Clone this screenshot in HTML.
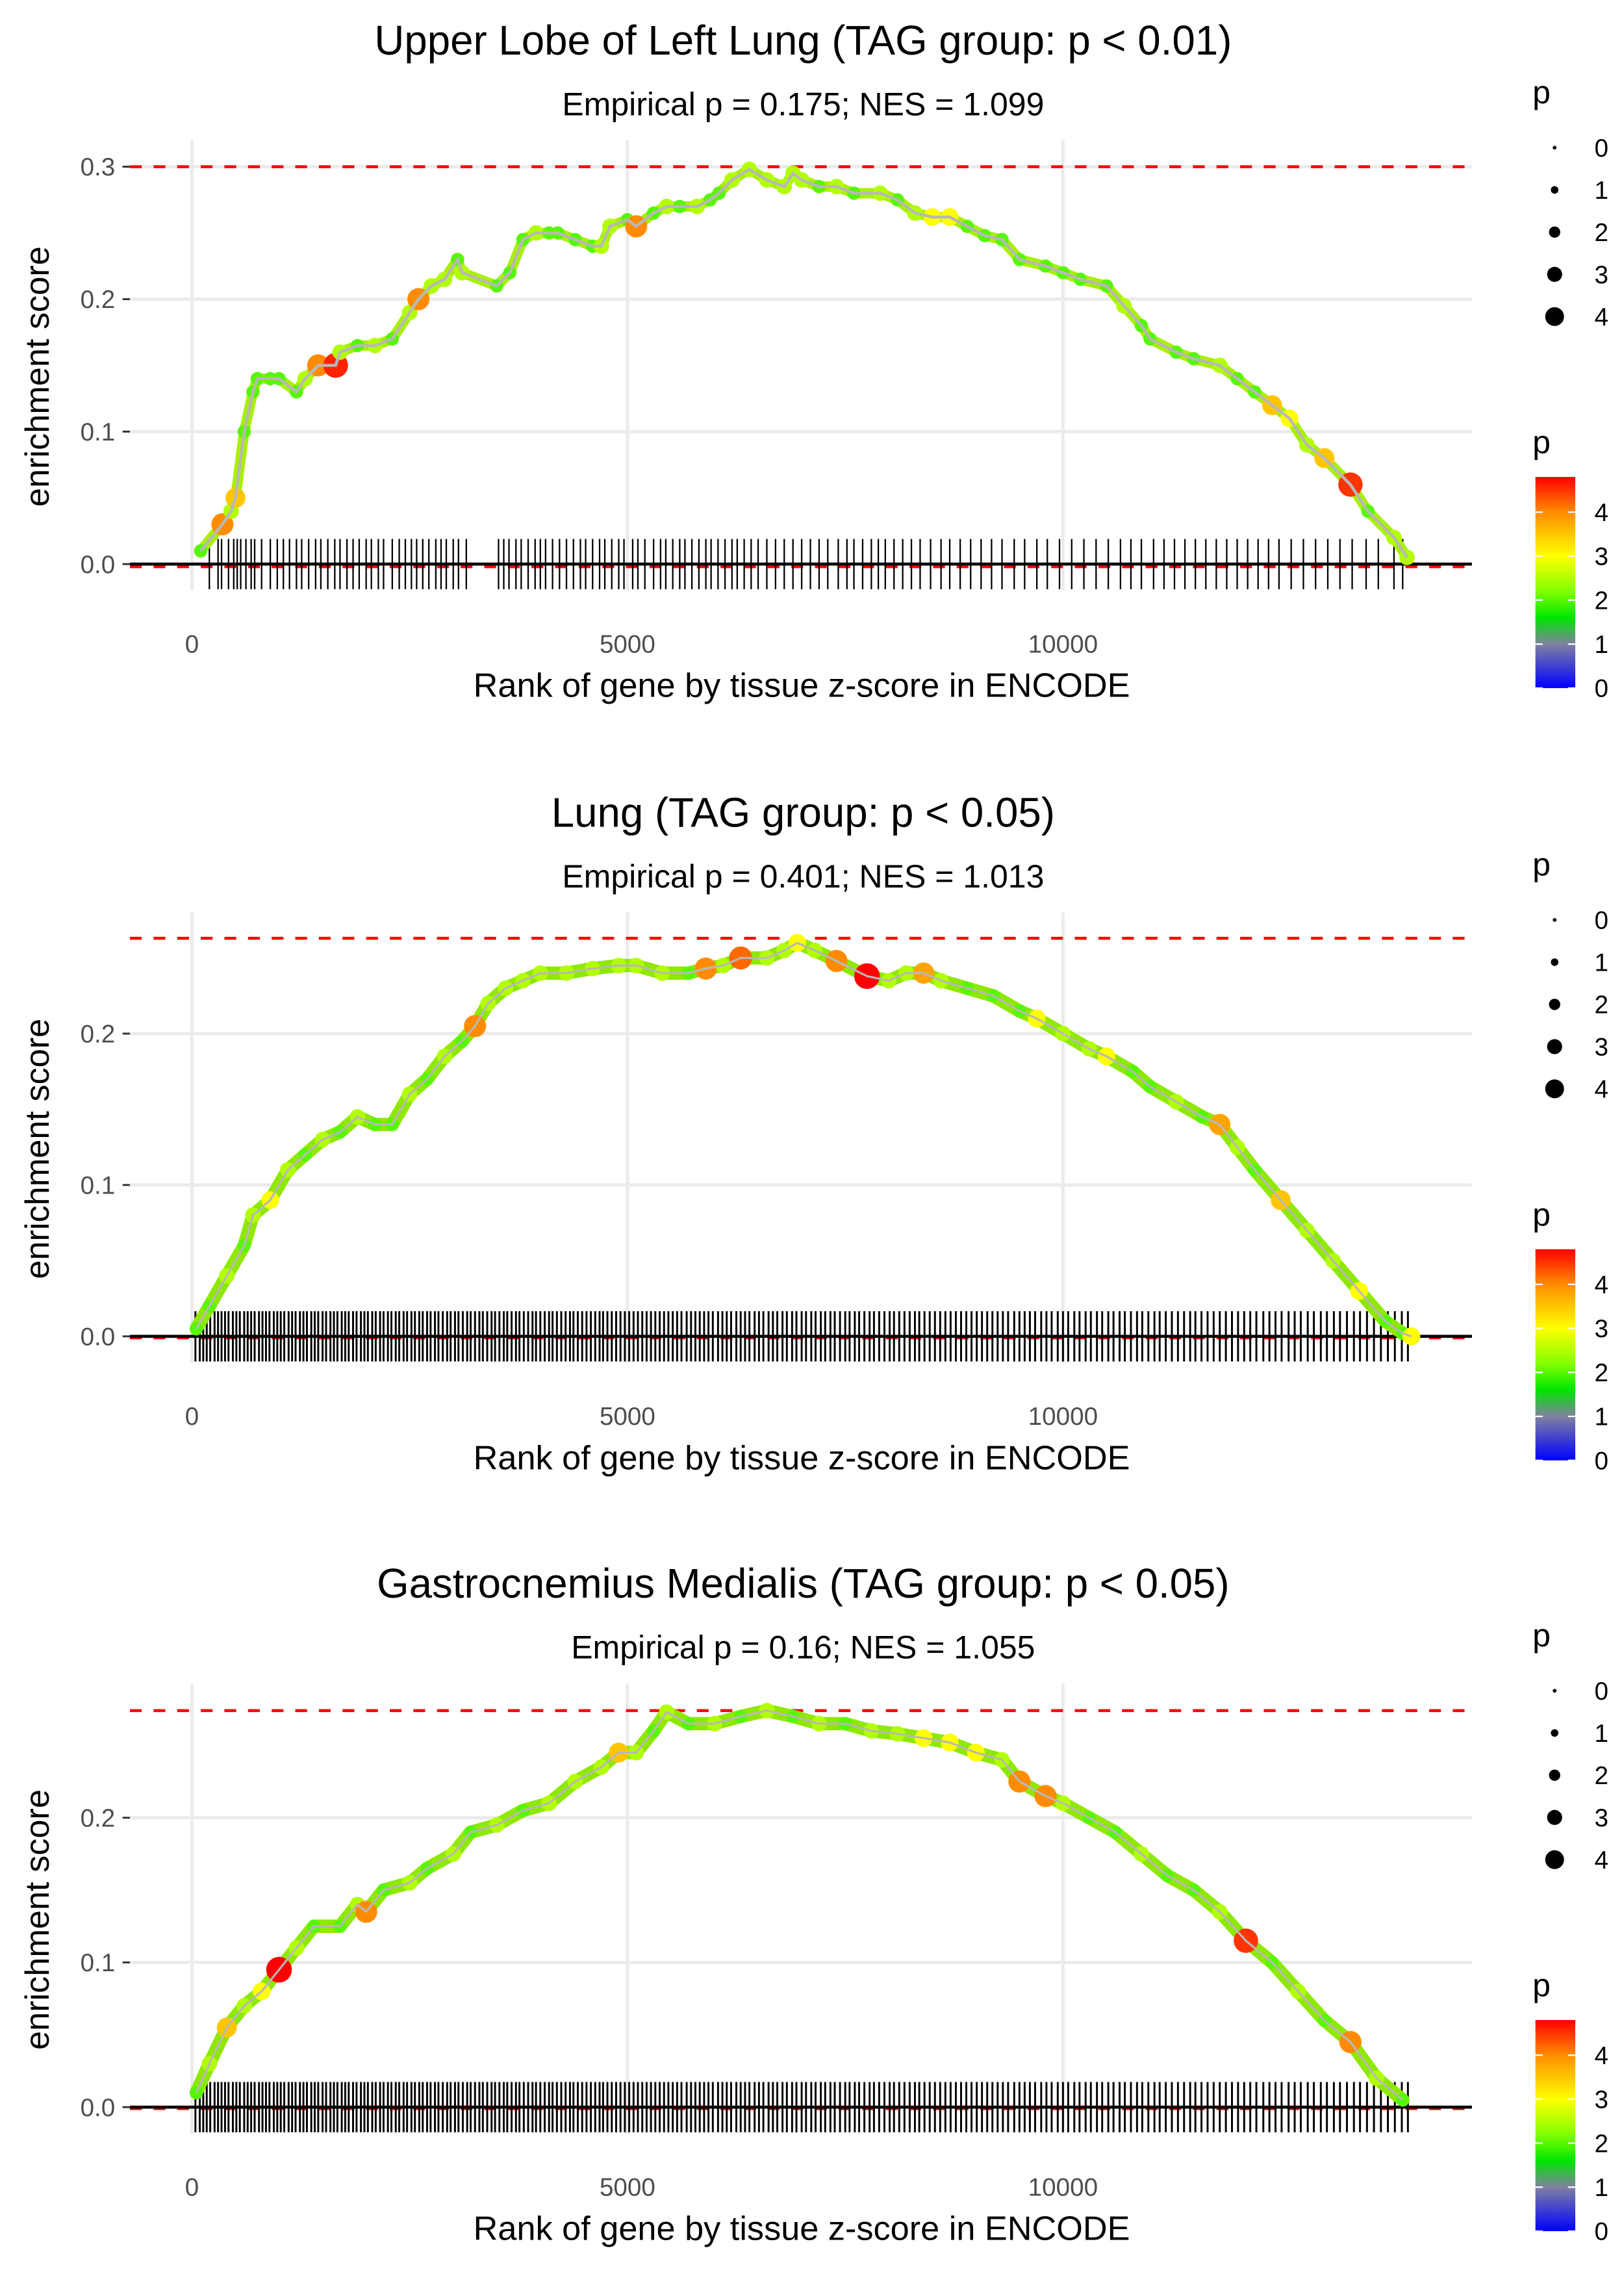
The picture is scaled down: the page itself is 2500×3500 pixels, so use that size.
<!DOCTYPE html>
<html><head><meta charset="utf-8"><style>
html,body{margin:0;padding:0;background:#fff;}
svg{display:block;font-family:"Liberation Sans",sans-serif;}
</style></head><body>
<svg id="chart" width="2500" height="3500" viewBox="0 0 1100 1540" xmlns="http://www.w3.org/2000/svg"></svg>
<script>
// ---------- data ----------
const titles = ["Upper Lobe of Left Lung (TAG group: p < 0.01)","Lung (TAG group: p < 0.05)","Gastrocnemius Medialis (TAG group: p < 0.05)"];
const subtitles = ["Empirical p = 0.175; NES = 1.099","Empirical p = 0.401; NES = 1.013","Empirical p = 0.16; NES = 1.055"];
const xTicks = [0,5000,10000];
const yTicks1 = [0,0.1,0.2,0.3];
const yTicks2 = [0,0.1,0.2];
const yTicks3 = [0,0.1,0.2];
const maxES = [0.300,0.263,0.274];
const minES = [-0.002,-0.001,-0.001];

const ranks1 = [100,350,450,500,600,700,750,900,1000,1200,1300,1450,1650,1700,1900,2100,2300,2500,2600,2750,2900,3050,3100,3500,3650,3800,3950,4100,4200,4400,4600,4700,4800,5000,5100,5300,5450,5600,5800,5950,6050,6200,6400,6600,6800,6900,7000,7200,7400,7600,7900,8100,8300,8500,8700,8900,9100,9300,9500,9800,10000,10200,10500,10700,10900,11000,11300,11500,11800,12000,12200,12400,12600,12800,13000,13300,13500,13800,13950];
const es1 = [0.01,0.03,0.04,0.05,0.1,0.13,0.14,0.14,0.14,0.13,0.14,0.15,0.15,0.16,0.165,0.165,0.17,0.19,0.2,0.21,0.215,0.23,0.22,0.21,0.22,0.245,0.25,0.25,0.25,0.245,0.24,0.24,0.255,0.26,0.255,0.265,0.27,0.27,0.27,0.275,0.28,0.29,0.298,0.29,0.285,0.295,0.29,0.285,0.285,0.28,0.28,0.275,0.265,0.262,0.262,0.255,0.248,0.245,0.23,0.225,0.22,0.215,0.21,0.195,0.18,0.17,0.16,0.155,0.15,0.14,0.13,0.12,0.11,0.09,0.08,0.06,0.04,0.02,0.005];
const p1 = [2,4,2.5,3.5,2,2,2,2,2,2,2.5,4,4.6,2.5,2,2.5,2,2.5,4,2.5,2.5,2,2.5,2,2,2,2.5,2,2,2,2,2.5,2.5,2,4,2,2.5,2,2.5,2,2,2.5,2.5,2.5,2.5,2.5,2.5,2,2.5,2,2.5,2,2.5,3,3,2,2,2,2,2,2,2,2,2.5,2,2,2,2,2.5,2,2,3.5,3,2.5,3.5,4.5,2,2.5,2.5];
const rug1 = [200,300,340,420,480,520,560,620,680,720,800,900,980,1050,1120,1200,1260,1340,1420,1480,1560,1640,1700,1780,1850,1920,2000,2060,2140,2200,2300,2380,2450,2520,2580,2650,2720,2800,2860,2920,3000,3060,3150,3520,3580,3640,3720,3780,3860,3940,4000,4060,4140,4220,4300,4380,4460,4520,4600,4680,4740,4820,4900,4960,5060,5120,5200,5300,5380,5440,5520,5600,5660,5740,5820,5900,5960,6040,6120,6200,6260,6340,6420,6500,6600,6700,6800,6900,7000,7100,7200,7300,7420,7520,7600,7700,7800,7880,7960,8060,8160,8260,8360,8480,8600,8700,8820,8940,9060,9180,9300,9440,9560,9700,9820,9960,10100,10240,10380,10520,10660,10780,10900,11040,11160,11280,11400,11520,11640,11760,11880,12000,12120,12240,12360,12480,12620,12760,12900,13040,13180,13320,13480,13620,13800,13900];

const ranks2 = [50,200,400,600,700,900,1100,1300,1500,1700,1900,2100,2300,2500,2700,2900,3100,3250,3400,3600,3800,4000,4300,4600,4900,5100,5400,5700,5900,6100,6300,6600,6800,6950,7150,7400,7750,8000,8200,8400,8600,8900,9200,9500,9700,10000,10300,10500,10800,11000,11300,11600,11800,12000,12200,12500,12800,13100,13400,13700,13900,14000];
const es2 = [0.005,0.02,0.04,0.06,0.08,0.09,0.11,0.12,0.13,0.135,0.145,0.14,0.14,0.16,0.17,0.185,0.195,0.205,0.22,0.23,0.235,0.24,0.24,0.243,0.245,0.245,0.24,0.24,0.243,0.245,0.25,0.25,0.255,0.26,0.255,0.248,0.238,0.235,0.24,0.24,0.235,0.23,0.225,0.215,0.21,0.2,0.19,0.185,0.175,0.165,0.155,0.145,0.14,0.125,0.11,0.09,0.07,0.05,0.03,0.01,0.002,0.0];
const p2 = [2,2,2.5,2,2.5,3,2.5,2,2.5,2,2.5,2,2,2.5,2,2.5,2,4,2.5,2.5,2.5,2.5,2.5,2.5,2.5,2.5,2.5,2,4,2.5,4.2,2.5,2.5,3,2.5,4,4.8,2.5,2.5,3.8,2.5,2,2,2,3,2.5,2.5,3,2,2,2.5,2,3.8,2.5,2,3.5,2.5,2.5,3,2,2,3];

const ranks3 = [50,200,400,600,800,1000,1200,1400,1700,1900,2000,2200,2500,2700,3000,3200,3500,3800,4100,4400,4700,4900,5100,5300,5450,5700,6000,6300,6600,6900,7200,7500,7800,8100,8400,8700,9000,9300,9500,9800,10000,10300,10600,10900,11200,11500,11800,12100,12400,12700,13000,13300,13600,13900];
const es3 = [0.01,0.03,0.055,0.07,0.08,0.095,0.11,0.125,0.125,0.14,0.135,0.15,0.155,0.165,0.175,0.19,0.195,0.205,0.21,0.225,0.235,0.245,0.245,0.26,0.273,0.265,0.265,0.27,0.274,0.27,0.265,0.265,0.26,0.258,0.255,0.252,0.245,0.24,0.225,0.215,0.21,0.2,0.19,0.175,0.16,0.15,0.135,0.115,0.1,0.08,0.06,0.045,0.02,0.005];
const p3 = [2,2.5,3.5,2.5,3,4.8,2.5,2,2,2.5,4,2,2.5,2,2.5,2,2.5,2,2.5,2.5,2.5,3.5,2.5,2,2.5,2,2.5,2,2.5,2,2.5,2,2.5,2.5,3,3,3,2.5,4,4,2.5,2,2,2.5,2,2,2.5,4.5,2,2.5,2,4,2.5,2];

const rugDense = [40,90,130,170,210,260,300,340,380,420,470,510,550,600,640,680,720,770,810,850,890,940,980,1020,1060,1110,1150,1190,1240,1280,1320,1370,1410,1450,1500,1540,1590,1630,1670,1720,1760,1800,1850,1890,1940,1980,2020,2070,2110,2160,2200,2250,2290,2340,2380,2430,2470,2520,2560,2610,2650,2700,2740,2790,2830,2880,2930,2970,3020,3060,3110,3160,3200,3250,3300,3340,3390,3440,3480,3530,3580,3620,3670,3720,3760,3810,3860,3910,3950,4000,4050,4100,4140,4190,4240,4290,4340,4380,4430,4480,4530,4580,4630,4680,4720,4770,4820,4870,4920,4970,5020,5070,5120,5170,5220,5270,5320,5370,5420,5470,5520,5570,5620,5680,5730,5780,5830,5880,5930,5980,6040,6090,6140,6190,6250,6300,6350,6400,6460,6510,6560,6620,6670,6720,6780,6830,6890,6940,7000,7050,7110,7160,7220,7270,7330,7380,7440,7500,7550,7610,7660,7720,7780,7830,7890,7950,8010,8060,8120,8180,8240,8300,8350,8410,8470,8530,8590,8650,8710,8770,8830,8890,8950,9010,9070,9130,9190,9250,9310,9370,9440,9500,9560,9620,9680,9750,9810,9870,9940,10000,10060,10130,10190,10260,10320,10390,10450,10520,10580,10650,10710,10780,10850,10910,10980,11050,11110,11180,11250,11320,11390,11460,11520,11590,11660,11730,11800,11870,11940,12010,12080,12150,12220,12300,12370,12440,12510,12590,12660,12730,12810,12880,12960,13030,13110,13180,13260,13340,13410,13490,13570,13650,13730,13810,13890,13960];

const pointsRanks = [ranks1,ranks2,ranks3];
const pointsES = [es1,es2,es3];
const pointsP = [p1,p2,p3];
const rugs = [rug1,rugDense,rugDense];
const yTicksAll = [yTicks1,yTicks2,yTicks3];
const legendVals = [0,1,2,3,4];

// ---------- geometry ----------
const NS = "http://www.w3.org/2000/svg";
const svg = document.getElementById('chart');
const panelOff = [0,523,1045];
const yZero = [382,905,1427];
const yScaleK = [897,1025,980];
const PL=88, PR=997;
const xScale = r => 130 + r*(295/5000);

function mk(tag, attrs, parent){
  const e=document.createElementNS(NS,tag);
  for(const k in attrs) e.setAttribute(k,attrs[k]);
  (parent||svg).appendChild(e); return e;
}
function pColor(p){
  const stops=[[0,[0,0,255]],[1,[128,128,160]],[1.6,[0,230,0]],[2.2,[130,255,0]],[3,[255,255,0]],[4,[255,140,0]],[4.8,[255,0,0]]];
  if(p<=0) return 'rgb(0,0,255)';
  for(let i=1;i<stops.length;i++){
    if(p<=stops[i][0]){
      const a=stops[i-1],b=stops[i],t=(p-a[0])/(b[0]-a[0]);
      const c=a[1].map((v,j)=>Math.round(v+(b[1][j]-v)*t));
      return `rgb(${c.join(',')})`;
    }
  }
  return 'rgb(255,0,0)';
}
function pRadius(p){ return 1.5 + p*1.5; }

for(let k=0;k<3;k++){
  const off=panelOff[k];
  const yS = v => yZero[k] - v*yScaleK[k];
  const g=mk('g',{});
  
  
  const t=mk('text',{x:544,y:off+37,'font-size':28,'text-anchor':'middle',fill:'#000'},g);
  t.textContent=titles[k];
  
  
  const s=mk('text',{x:544,y:off+78,'font-size':22,'text-anchor':'middle',fill:'#000'},g);
  s.textContent=subtitles[k];
  
  
  const top=off+95, bot=off+400;
  xTicks.forEach(v=>{
    const l=mk('line',{x1:xScale(v),x2:xScale(v),y1:top,y2:bot,stroke:'#ebebeb','stroke-width':2.2},g);
    
    
    const tl=mk('text',{x:xScale(v),y:off+442,'font-size':17,'text-anchor':'middle',fill:'#4d4d4d'},g);
    tl.textContent=v;
    
    
  });
  yTicksAll[k].forEach(v=>{
    const l=mk('line',{x1:PL,x2:PR,y1:yS(v),y2:yS(v),stroke:'#ebebeb','stroke-width':2.2},g);
    
    
    const tm=mk('line',{x1:83,x2:88,y1:yS(v),y2:yS(v),stroke:'#333','stroke-width':1.3},g);
    
    
    const tl=mk('text',{x:78,y:yS(v)+6,'font-size':17,'text-anchor':'end',fill:'#4d4d4d'},g);
    tl.textContent=v.toFixed(1);
    
    
  });
  [maxES[k],minES[k]].forEach((v,i)=>{
    const l=mk('line',{x1:PL,x2:PR,y1:yS(v),y2:yS(v),stroke:'#ff0000','stroke-width':2,'stroke-dasharray':'8,8'},g);
    
    
  });
  rugs[k].forEach(r=>{
    const l=mk('line',{x1:xScale(r),x2:xScale(r),y1:yZero[k]-17,y2:yZero[k]+17,stroke:'#000','stroke-width':k?1.3:1},g);
    
    
  });
  const z=mk('line',{x1:PL,x2:PR,y1:yZero[k],y2:yZero[k],stroke:'#000','stroke-width':2},g);
  
  
  const R=pointsRanks[k],E=pointsES[k],P=pointsP[k];
  const pts=R.map((r,i)=>xScale(r)+','+yS(E[i])).join(' ');
  const band=mk('polyline',{points:pts,fill:'none',stroke:k?'#8ee800':'#a8f000','stroke-width':k?9:7,'stroke-linejoin':'round','stroke-linecap':'round'},g);
  
  
  R.forEach((r,i)=>{
    const c=mk('circle',{cx:xScale(r),cy:yS(E[i]),r:pRadius(P[i]),fill:pColor(P[i])},g);
    
    
  });
  const pl=mk('polyline',{points:pts,fill:'none',stroke:'#b8b8b8','stroke-width':k?1.4:2},g);
  
  
  const xt=mk('text',{x:543,y:off+472,'font-size':23,'text-anchor':'middle',fill:'#000'},g);
  xt.textContent='Rank of gene by tissue z-score in ENCODE';
  
  
  const yt=mk('text',{x:0,y:0,'font-size':23,'text-anchor':'middle',fill:'#000',transform:`translate(33,${off+255}) rotate(-90)`},g);
  yt.textContent='enrichment score';
  
  
  const st=mk('text',{x:1038,y:off+70,'font-size':22,fill:'#000'},g);
  st.textContent='p';
  
  
  legendVals.forEach((v,i)=>{
    const cy=off+100+i*28.6;
    const c=mk('circle',{cx:1053,cy:cy,r:pRadius(v)*0.85,fill:'#000'},g);
    
    
    const lt=mk('text',{x:1080,y:cy+6,'font-size':17,fill:'#000'},g);
    lt.textContent=v;
    
    
  });
  const ct=mk('text',{x:1038,y:off+307,'font-size':22,fill:'#000'},g);
  ct.textContent='p';
  
  
  const gid='grad'+k;
  const defs=mk('defs',{},g);
  const lg=mk('linearGradient',{id:gid,x1:0,y1:1,x2:0,y2:0},defs);
  [0,0.5,1,1.3,1.6,1.9,2.2,2.6,3,3.5,4,4.4,4.8].forEach(v=>{
    mk('stop',{offset:(v/4.8),'stop-color':pColor(v)},lg);
  });
  const bar=mk('rect',{x:1040,y:off+323,width:27,height:143,fill:`url(#${gid})`},g);
  
  
  legendVals.forEach(v=>{
    const yy=off+466 - v*(143/4.8);
    mk('line',{x1:1040,x2:1045,y1:yy,y2:yy,stroke:'#fff','stroke-width':1},g);
    mk('line',{x1:1062,x2:1067,y1:yy,y2:yy,stroke:'#fff','stroke-width':1},g);
    const lt=mk('text',{x:1080,y:yy+6,'font-size':17,fill:'#000'},g);
    lt.textContent=v;
    
    
  });
}
</script>
</body></html>
